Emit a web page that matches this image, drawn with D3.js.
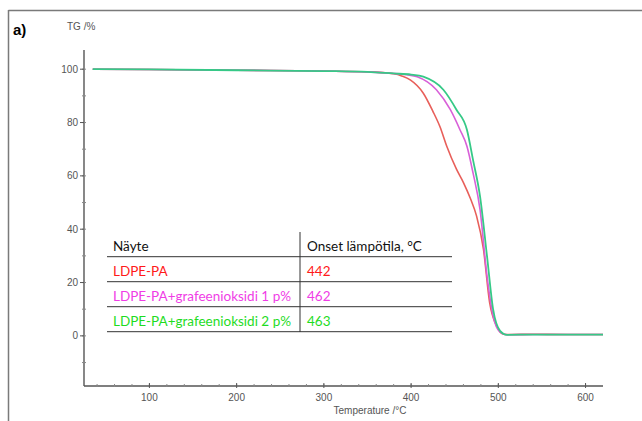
<!DOCTYPE html>
<html><head><meta charset="utf-8">
<script src="https://cdn.jsdelivr.net/npm/d3@7"></script>
<style>body{margin:0;background:#fff}svg{display:block}</style>
</head><body>
<svg id="c" width="642" height="421"></svg>
<script>
// ---- data ----
const tempRed = [35,100,200,300,350,380,390,399,414,425,433,441,452,460,468,475,483,490,498,506,515,540,580,620];
const valRed  = [100,99.9,99.6,99.3,99.0,98.3,97.4,96.0,91.0,84.2,78.5,71.0,62.5,57.5,51.5,45.0,32.4,12.6,3.7,0.6,0.5,0.6,0.5,0.5];
const tempMag = [35,100,200,300,350,380,395,407,429,445,456,464,471,479,487,494,502,510,540,620];
const valMag  = [100,99.9,99.6,99.3,99.0,98.4,97.9,97.2,92.3,84.8,77.3,71.1,61.1,47.4,22.4,7.5,1.4,0.4,0.5,0.5];
const tempGrn = [35,100,200,300,350,380,400,414,437,452,464,471,479,487,494,502,510,540,580,620];
const valGrn  = [100,99.9,99.6,99.3,99.0,98.4,98.0,97.2,92.3,84.8,77.3,66.0,52.4,30.0,10.0,1.9,0.4,0.5,0.5,0.5];
const xTicks = [100,200,300,400,500,600];
const yTicks = [0,20,40,60,80,100];
const tableHeader = ["Näyte","Onset lämpötila, °C"];
const sampleNames = ["LDPE-PA","LDPE-PA+grafeenioksidi 1 p%","LDPE-PA+grafeenioksidi 2 p%"];
const onsetTemps = [442,462,463];

const curveColors = ["#e85f5a","#d860d8","#36c987"];
const textColors = ["#ff1a1a","#f03de6","#1fdc1f"];

const svg = d3.select("#c");
// frame
svg.append("line").attr("x1",8.5).attr("x2",642).attr("y1",10.5).attr("y2",10.5).attr("stroke","#7a7a7a").attr("stroke-width",1.5);
svg.append("line").attr("x1",8.5).attr("x2",8.5).attr("y1",10).attr("y2",421).attr("stroke","#7a7a7a").attr("stroke-width",1.5);
svg.append("text").attr("x",13).attr("y",35).attr("font-family","Liberation Sans, Arial").attr("font-weight","bold").attr("font-size",15).text("a)");

const x = d3.scaleLinear().domain([25,620]).range([84,603]);
const y = d3.scaleLinear().domain([-18.8,107.2]).range([386,50]);

const axisCol = "#555";
// y axis
svg.append("line").attr("x1",84).attr("x2",84).attr("y1",y(107.2)).attr("y2",386).attr("stroke",axisCol).attr("stroke-width",1.4);
const yMinor = d3.range(-10,101,10);
svg.selectAll(".ymin").data(yMinor).join("line")
  .attr("x1",82).attr("x2",86).attr("y1",d=>y(d)).attr("y2",d=>y(d)).attr("stroke","#888").attr("stroke-width",1);
svg.selectAll(".ymaj").data(yTicks).join("line")
  .attr("x1",80).attr("x2",84).attr("y1",d=>y(d)).attr("y2",d=>y(d)).attr("stroke",axisCol).attr("stroke-width",1);
svg.selectAll(".ylab").data(yTicks).join("text")
  .attr("x",78).attr("y",d=>y(d)+3.5).attr("text-anchor","end")
  .attr("font-family","Liberation Sans, Arial").attr("font-size",10).attr("fill","#555").text(d=>d);
svg.append("text").attr("x",67).attr("y",30).attr("font-family","Liberation Sans, Arial").attr("font-size",10).attr("fill","#555").text("TG /%");

// x axis
svg.append("line").attr("x1",84).attr("x2",603).attr("y1",386).attr("y2",386).attr("stroke",axisCol).attr("stroke-width",1.4);
const xMinor = d3.range(40,620,20);
svg.selectAll(".xmin").data(xMinor).join("line")
  .attr("x1",d=>x(d)).attr("x2",d=>x(d)).attr("y1",384).attr("y2",387).attr("stroke","#888").attr("stroke-width",1);
svg.selectAll(".xmaj").data(xTicks).join("line")
  .attr("x1",d=>x(d)).attr("x2",d=>x(d)).attr("y1",383).attr("y2",388).attr("stroke",axisCol).attr("stroke-width",1);
svg.selectAll(".xlab").data(xTicks).join("text")
  .attr("x",d=>x(d)).attr("y",401).attr("text-anchor","middle")
  .attr("font-family","Liberation Sans, Arial").attr("font-size",10).attr("fill","#555").text(d=>d);
svg.append("text").attr("x",370).attr("y",414).attr("text-anchor","middle").attr("font-family","Liberation Sans, Arial").attr("font-size",10).attr("fill","#555").text("Temperature /°C");

// curves
const line = d3.line().x(d=>x(d[0])).y(d=>y(d[1])).curve(d3.curveMonotoneX);
const series = [[tempRed,valRed],[tempMag,valMag],[tempGrn,valGrn]];
series.forEach((s,i)=>{
  svg.append("path").datum(s[0].map((t,j)=>[t,s[1][j]]))
    .attr("d",line).attr("fill","none").attr("stroke",curveColors[i]).attr("stroke-width",i===2?1.8:1.6);
});

// table
const tf = "Lato, Open Sans, sans-serif";
const rowLines = [256.7,281.7,306.7,331.7];
svg.selectAll(".hl").data(rowLines).join("line")
  .attr("x1",107).attr("x2",452).attr("y1",d=>d).attr("y2",d=>d).attr("stroke","#333").attr("stroke-width",1);
svg.append("line").attr("x1",300).attr("x2",300).attr("y1",232).attr("y2",332).attr("stroke","#333").attr("stroke-width",1);
const g = svg.append("g");
g.append("text").attr("x",113).attr("y",251).attr("font-family",tf).attr("font-size",13.5).attr("fill","#111").text(tableHeader[0]);
g.append("text").attr("x",307).attr("y",251).attr("font-family",tf).attr("font-size",13.5).attr("fill","#111").text(tableHeader[1]);
const rowBase = [275.5,300.5,325.5];
sampleNames.forEach((n,i)=>{
  g.append("text").attr("x",113).attr("y",rowBase[i]).attr("font-family",tf).attr("font-size",13.5).attr("fill",textColors[i]).text(n);
  g.append("text").attr("x",307).attr("y",rowBase[i]).attr("font-family",tf).attr("font-size",13.5).attr("fill",textColors[i]).text(onsetTemps[i]);
});
</script>
</body></html>
